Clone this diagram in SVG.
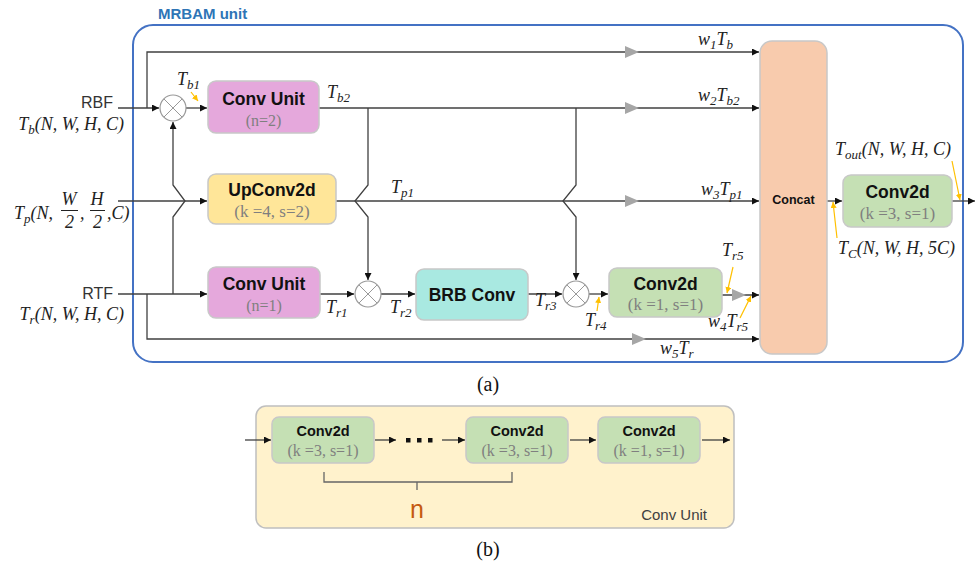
<svg xmlns="http://www.w3.org/2000/svg" width="977" height="564" viewBox="0 0 977 564">
<defs>
<style>
.ln{fill:none;stroke:#404040;stroke-width:1.3}
.or{fill:none;stroke:#ffc000;stroke-width:1.2}
.node{stroke:#c8c8c8;stroke-width:1.5}
.t{font-family:"Liberation Sans",Arial,sans-serif;font-weight:bold;fill:#111;text-anchor:middle}
.p{font-family:"Liberation Serif","Times New Roman",serif;fill:#7f7f7f;text-anchor:middle}
.m{font-family:"Liberation Serif","Times New Roman",serif;font-style:italic;font-size:18px;fill:#222}
.s{font-size:13px}
.lb{font-family:"Liberation Sans",Arial,sans-serif;font-size:16px;fill:#333}
.gt{fill:#a6a6a6}
.cap{font-family:"Liberation Serif","Times New Roman",serif;font-size:20px;fill:#111;text-anchor:middle}
</style>
<marker id="ar" viewBox="0 0 8 8" refX="8" refY="4" markerWidth="7" markerHeight="7" markerUnits="userSpaceOnUse" orient="auto"><path d="M0,0 L8,4 L0,8 Z" fill="#111"/></marker>
<marker id="ao" viewBox="0 0 8 8" refX="8" refY="4" markerWidth="6" markerHeight="6" markerUnits="userSpaceOnUse" orient="auto"><path d="M0,0 L8,4 L0,8 Z" fill="#ffc000"/></marker>
</defs>
<rect width="977" height="564" fill="#fff"/>

<!-- outer MRBAM box -->
<rect x="133" y="25" width="830" height="337" rx="20" fill="none" stroke="#4472c4" stroke-width="2"/>
<text x="158" y="19" font-family="Liberation Sans,Arial,sans-serif" font-weight="bold" font-size="15" fill="#2e75b6">MRBAM unit</text>

<!-- connectors -->
<g id="connectors">
<path class="ln" d="M118,108 H159" marker-end="url(#ar)"/>
<path class="ln" d="M147,108 V52 H759" marker-end="url(#ar)"/>
<path class="ln" d="M186,108 H207" marker-end="url(#ar)"/>
<path class="ln" d="M173,294 V217 L185,201 L173,185 V122" marker-end="url(#ar)"/>
<path class="ln" d="M319,108 H759" marker-end="url(#ar)"/>
<path class="ln" d="M368,108 V185 L355,201 L368,217 V280" marker-end="url(#ar)"/>
<path class="ln" d="M576,108 V185 L563,201 L576,217 V280" marker-end="url(#ar)"/>
<path class="ln" d="M118,201 H207" marker-end="url(#ar)"/>
<path class="ln" d="M336,201 H759" marker-end="url(#ar)"/>
<path class="ln" d="M118,294 H207" marker-end="url(#ar)"/>
<path class="ln" d="M147,294 V339 H759" marker-end="url(#ar)"/>
<path class="ln" d="M320,294 H354" marker-end="url(#ar)"/>
<path class="ln" d="M381,294 H415" marker-end="url(#ar)"/>
<path class="ln" d="M528,294 H562" marker-end="url(#ar)"/>
<path class="ln" d="M589,294 H608" marker-end="url(#ar)"/>
<path class="ln" d="M722,295 H759" marker-end="url(#ar)"/>
<path class="ln" d="M827,201 H842" marker-end="url(#ar)"/>
<path class="ln" d="M952,201 H975" marker-end="url(#ar)"/>
<!-- grey weight arrows -->
<polygon class="gt" points="625,46 639,52 625,58"/>
<polygon class="gt" points="625,102 639,108 625,114"/>
<polygon class="gt" points="625,195 639,201 625,207"/>
<polygon class="gt" points="732,289 746,295 732,301"/>
<polygon class="gt" points="632,333 646,339 632,345"/>
<!-- orange pointers -->
<path class="or" d="M191,92 L198,101" marker-end="url(#ao)"/>
<path class="or" d="M597,311 L599,297" marker-end="url(#ao)"/>
<path class="or" d="M733,267 L727,293" marker-end="url(#ao)"/>
<path class="or" d="M740,318 L751,296" marker-end="url(#ao)"/>
<path class="or" d="M837,238 L833,202" marker-end="url(#ao)"/>
<path class="or" d="M952,161 L960,200" marker-end="url(#ao)"/>
</g>

<!-- multiply circles -->
<g id="mul1"><circle cx="173" cy="108" r="13" fill="#fff" stroke="#999" stroke-width="1.2"/><path d="M164,99 L182,117 M182,99 L164,117" stroke="#999" stroke-width="1"/></g>
<g id="mul2"><circle cx="368" cy="294" r="13" fill="#fff" stroke="#999" stroke-width="1.2"/><path d="M359,285 L377,303 M377,285 L359,303" stroke="#999" stroke-width="1"/></g>
<g id="mul3"><circle cx="576" cy="294" r="13" fill="#fff" stroke="#999" stroke-width="1.2"/><path d="M567,285 L585,303 M585,285 L567,303" stroke="#999" stroke-width="1"/></g>

<!-- nodes -->
<g id="convunit2"><rect class="node" x="208" y="81" width="111" height="52" rx="8" fill="#e5a8dc"/><text class="t" x="263.5" y="105" font-size="17.5">Conv Unit</text><text class="p" x="263.5" y="126" font-size="16">(n=2)</text></g>
<g id="upconv"><rect class="node" x="208" y="174" width="128" height="50" rx="8" fill="#ffe699"/><text class="t" x="272" y="196" font-size="17.5">UpConv2d</text><text class="p" x="272" y="217" font-size="17">(k =4, s=2)</text></g>
<g id="convunit1"><rect class="node" x="208" y="267" width="112" height="51" rx="8" fill="#e5a8dc"/><text class="t" x="264" y="290" font-size="17.5">Conv Unit</text><text class="p" x="264" y="311" font-size="16">(n=1)</text></g>
<g id="brb"><rect class="node" x="416" y="269" width="112" height="51" rx="8" fill="#a9e9e1"/><text class="t" x="472" y="301" font-size="17.5">BRB Conv</text></g>
<g id="conv2d_r"><rect class="node" x="609" y="268" width="113" height="49" rx="8" fill="#c5e0b4"/><text class="t" x="665.5" y="290" font-size="17.5">Conv2d</text><text class="p" x="665.5" y="310" font-size="17">(k =1, s=1)</text></g>
<g id="concat"><rect class="node" x="760" y="41" width="67" height="313" rx="12" fill="#f8cbad"/><text class="t" x="793.5" y="204" font-size="12.5">Concat</text></g>
<g id="conv2d_out"><rect class="node" x="843" y="175" width="109" height="52" rx="8" fill="#c5e0b4"/><text class="t" x="897.5" y="198" font-size="17.5">Conv2d</text><text class="p" x="897.5" y="219" font-size="17">(k =3, s=1)</text></g>

<!-- labels -->
<g id="labels">
<text class="lb" x="113" y="108" text-anchor="end">RBF</text>
<text class="m" x="124" y="130" text-anchor="end">T<tspan class="s" dy="4">b</tspan><tspan dy="-4">(N, W, H, C)</tspan></text>
<text class="lb" x="113" y="299" text-anchor="end">RTF</text>
<text class="m" x="124" y="320" text-anchor="end">T<tspan class="s" dy="4">r</tspan><tspan dy="-4">(N, W, H, C)</tspan></text>
<text class="m" x="14" y="219">T<tspan class="s" dy="4">p</tspan><tspan dy="-4">(N,</tspan></text>
<text class="m" x="69" y="205" text-anchor="middle">W</text>
<path d="M61,210.5 H78" stroke="#222" stroke-width="1"/>
<text class="m" x="69.5" y="228" text-anchor="middle" font-style="normal">2</text>
<text class="m" x="80" y="219">,</text>
<text class="m" x="97" y="205" text-anchor="middle">H</text>
<path d="M90,210.5 H105" stroke="#222" stroke-width="1"/>
<text class="m" x="97.5" y="228" text-anchor="middle" font-style="normal">2</text>
<text class="m" x="107" y="219">,C)</text>
<text class="m" x="177" y="85">T<tspan class="s" dy="4">b1</tspan></text>
<text class="m" x="327" y="98">T<tspan class="s" dy="4">b2</tspan></text>
<text class="m" x="698" y="45">w<tspan class="s" dy="4">1</tspan><tspan dy="-4">T</tspan><tspan class="s" dy="4">b</tspan></text>
<text class="m" x="698" y="101">w<tspan class="s" dy="4">2</tspan><tspan dy="-4">T</tspan><tspan class="s" dy="4">b2</tspan></text>
<text class="m" x="391" y="193">T<tspan class="s" dy="4">p1</tspan></text>
<text class="m" x="701" y="195">w<tspan class="s" dy="4">3</tspan><tspan dy="-4">T</tspan><tspan class="s" dy="4">p1</tspan></text>
<text class="m" x="326" y="313">T<tspan class="s" dy="4">r1</tspan></text>
<text class="m" x="390" y="313">T<tspan class="s" dy="4">r2</tspan></text>
<text class="m" x="535" y="306">T<tspan class="s" dy="4">r3</tspan></text>
<text class="m" x="585" y="326">T<tspan class="s" dy="4">r4</tspan></text>
<text class="m" x="722" y="256">T<tspan class="s" dy="4">r5</tspan></text>
<text class="m" x="708" y="327">w<tspan class="s" dy="4">4</tspan><tspan dy="-4">T</tspan><tspan class="s" dy="4">r5</tspan></text>
<text class="m" x="660" y="354">w<tspan class="s" dy="4">5</tspan><tspan dy="-4">T</tspan><tspan class="s" dy="4">r</tspan></text>
<text class="m" x="835" y="155">T<tspan class="s" dy="4">out</tspan><tspan dy="-4">(N, W, H, C)</tspan></text>
<text class="m" x="838" y="254">T<tspan class="s" dy="4">C</tspan><tspan dy="-4">(N, W, H, 5C)</tspan></text>
</g>
<text class="cap" x="488" y="391">(a)</text>

<!-- part (b) -->
<g id="convunit_panel">
<rect x="256" y="406" width="478" height="122" rx="10" fill="#fff2cc" stroke="#bfbfbf" stroke-width="1.5"/>
<text x="707" y="520" text-anchor="end" font-family="Liberation Sans,Arial,sans-serif" font-size="15" fill="#404040">Conv Unit</text>
</g>
<g id="b_conv1"><rect class="node" x="272" y="417" width="102" height="46" rx="7" fill="#c5e0b4"/><text class="t" x="323" y="436" font-size="14.5">Conv2d</text><text class="p" x="323" y="456" font-size="16">(k =3, s=1)</text></g>
<g id="b_conv2"><rect class="node" x="466" y="417" width="102" height="46" rx="7" fill="#c5e0b4"/><text class="t" x="517" y="436" font-size="14.5">Conv2d</text><text class="p" x="517" y="456" font-size="16">(k =3, s=1)</text></g>
<g id="b_conv3"><rect class="node" x="598" y="417" width="102" height="46" rx="7" fill="#c5e0b4"/><text class="t" x="649" y="436" font-size="14.5">Conv2d</text><text class="p" x="649" y="456" font-size="16">(k =1, s=1)</text></g>
<g id="b_connectors">
<path class="ln" d="M245,440 H271" marker-end="url(#ar)"/>
<path class="ln" d="M375,440 H396" marker-end="url(#ar)"/>
<path class="ln" d="M442,440 H465" marker-end="url(#ar)"/>
<path class="ln" d="M570,440 H596" marker-end="url(#ar)"/>
<path class="ln" d="M702,440 H730" marker-end="url(#ar)"/>
<rect x="406" y="438" width="4.5" height="4.5" fill="#111"/>
<rect x="417" y="438" width="4.5" height="4.5" fill="#111"/>
<rect x="428" y="438" width="4.5" height="4.5" fill="#111"/>
<path d="M324,472 V482 H512 V472 M417,482 V490" fill="none" stroke="#666" stroke-width="1.3"/>
</g>
<text x="417" y="518" text-anchor="middle" font-family="Liberation Sans,Arial,sans-serif" font-size="25" fill="#c55a11">n</text>
<text class="cap" x="488" y="556">(b)</text>
</svg>
